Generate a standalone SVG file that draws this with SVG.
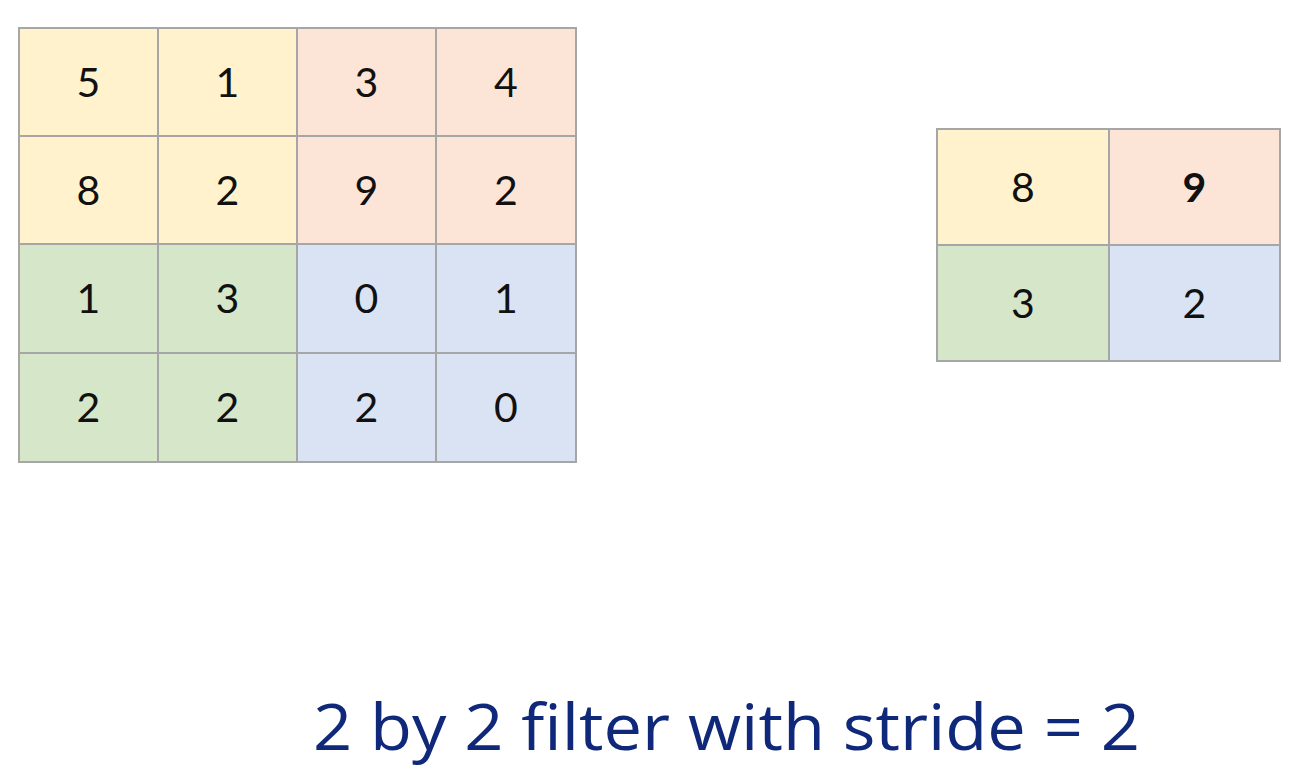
<svg xmlns="http://www.w3.org/2000/svg" width="1294" height="778" viewBox="0 0 1294 778">
<style>
.c{stroke:#A6A6A6;stroke-width:2}
.y{fill:#FFF2CC}.o{fill:#FCE4D6}.g{fill:#D6E6C9}.b{fill:#DAE3F3}
.n{font-family:Lato,"Open Sans","Liberation Sans",sans-serif;font-size:41px;fill:#111;text-anchor:middle}
.nb{font-weight:bold}
.t{font-family:"Open Sans","Noto Sans","Liberation Sans",sans-serif;font-size:64px;font-weight:500;fill:#10287A}
</style>
<rect width="1294" height="778" fill="#FFFFFF"/>
<g id="input">
<g id="i00"><rect class="c y" x="19" y="28" width="139" height="108"/><text class="n" x="88.5" y="97">5</text></g>
<g id="i01"><rect class="c y" x="158" y="28" width="139" height="108"/><text class="n" x="227.5" y="97">1</text></g>
<g id="i02"><rect class="c o" x="297" y="28" width="139" height="108"/><text class="n" x="366.5" y="97">3</text></g>
<g id="i03"><rect class="c o" x="436" y="28" width="140" height="108"/><text class="n" x="506" y="97">4</text></g>
<g id="i10"><rect class="c y" x="19" y="136" width="139" height="108"/><text class="n" x="88.5" y="205">8</text></g>
<g id="i11"><rect class="c y" x="158" y="136" width="139" height="108"/><text class="n" x="227.5" y="205">2</text></g>
<g id="i12"><rect class="c o" x="297" y="136" width="139" height="108"/><text class="n" x="366.5" y="205">9</text></g>
<g id="i13"><rect class="c o" x="436" y="136" width="140" height="108"/><text class="n" x="506" y="205">2</text></g>
<g id="i20"><rect class="c g" x="19" y="244" width="139" height="109"/><text class="n" x="88.5" y="313">1</text></g>
<g id="i21"><rect class="c g" x="158" y="244" width="139" height="109"/><text class="n" x="227.5" y="313">3</text></g>
<g id="i22"><rect class="c b" x="297" y="244" width="139" height="109"/><text class="n" x="366.5" y="313">0</text></g>
<g id="i23"><rect class="c b" x="436" y="244" width="140" height="109"/><text class="n" x="506" y="313">1</text></g>
<g id="i30"><rect class="c g" x="19" y="353" width="139" height="109"/><text class="n" x="88.5" y="422">2</text></g>
<g id="i31"><rect class="c g" x="158" y="353" width="139" height="109"/><text class="n" x="227.5" y="422">2</text></g>
<g id="i32"><rect class="c b" x="297" y="353" width="139" height="109"/><text class="n" x="366.5" y="422">2</text></g>
<g id="i33"><rect class="c b" x="436" y="353" width="140" height="109"/><text class="n" x="506" y="422">0</text></g>
</g>
<g id="output">
<g id="o00"><rect class="c y" x="937" y="129" width="172" height="116"/><text class="n" x="1023" y="202">8</text></g>
<g id="o01"><rect class="c o" x="1109" y="129" width="171" height="116"/><text class="n nb" x="1194.5" y="202">9</text></g>
<g id="o10"><rect class="c g" x="937" y="245" width="172" height="116"/><text class="n" x="1023" y="318">3</text></g>
<g id="o11"><rect class="c b" x="1109" y="245" width="171" height="116"/><text class="n" x="1194.5" y="318">2</text></g>
</g>
<g id="connectors"></g>
<text id="title" class="t" x="313" y="750" textLength="827" lengthAdjust="spacingAndGlyphs">2 by 2 filter with stride = 2</text>
</svg>
